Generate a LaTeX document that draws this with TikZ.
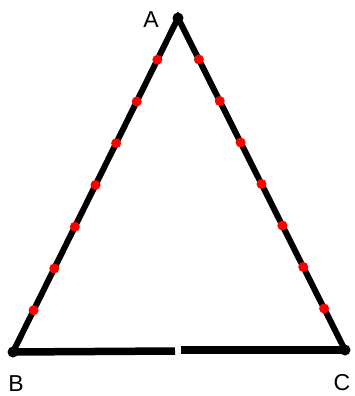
\documentclass[tikz,border=0pt]{standalone}
\usepackage{fontspec}
\setmainfont{Liberation Sans}
\usetikzlibrary{calc}
\begin{document}
\begin{tikzpicture}[x=1pt,y=-1pt,
  side/.style={line width=6pt},
  base/.style={line width=7.5pt},
  vdot/.style={circle,fill=black,inner sep=0pt,minimum size=11pt},
  rdot/.style={circle,fill=red,inner sep=0pt,minimum size=10pt},
  lbl/.style={font=\fontsize{23}{25}\selectfont,inner sep=0pt}]
\useasboundingbox (0,0) rectangle (354,396);
\coordinate (A) at (178,18);
\coordinate (B) at (13,352);
\coordinate (C) at (345,350);
\coordinate (G1) at (175,351);
\coordinate (G2) at (181,350);
\draw[side] (B) -- (A) -- (C);
\draw[base] (B) -- (G1);
\draw[base] (G2) -- (C);
\node[vdot] (vA) at (A) {};
\node[vdot] (vB) at (B) {};
\node[vdot] (vC) at (C) {};
\foreach \i in {1,...,7}{
  \node[rdot] (l\i) at ($(A)!\i/8!(B)$) {};
  \node[rdot] (r\i) at ($(A)!\i/8!(C)$) {};
}
\node[lbl] (la) at (151,20) {A};
\node[lbl] (lb) at (16,384) {B};
\node[lbl] (lc) at (342,383) {C};
\end{tikzpicture}
\end{document}
